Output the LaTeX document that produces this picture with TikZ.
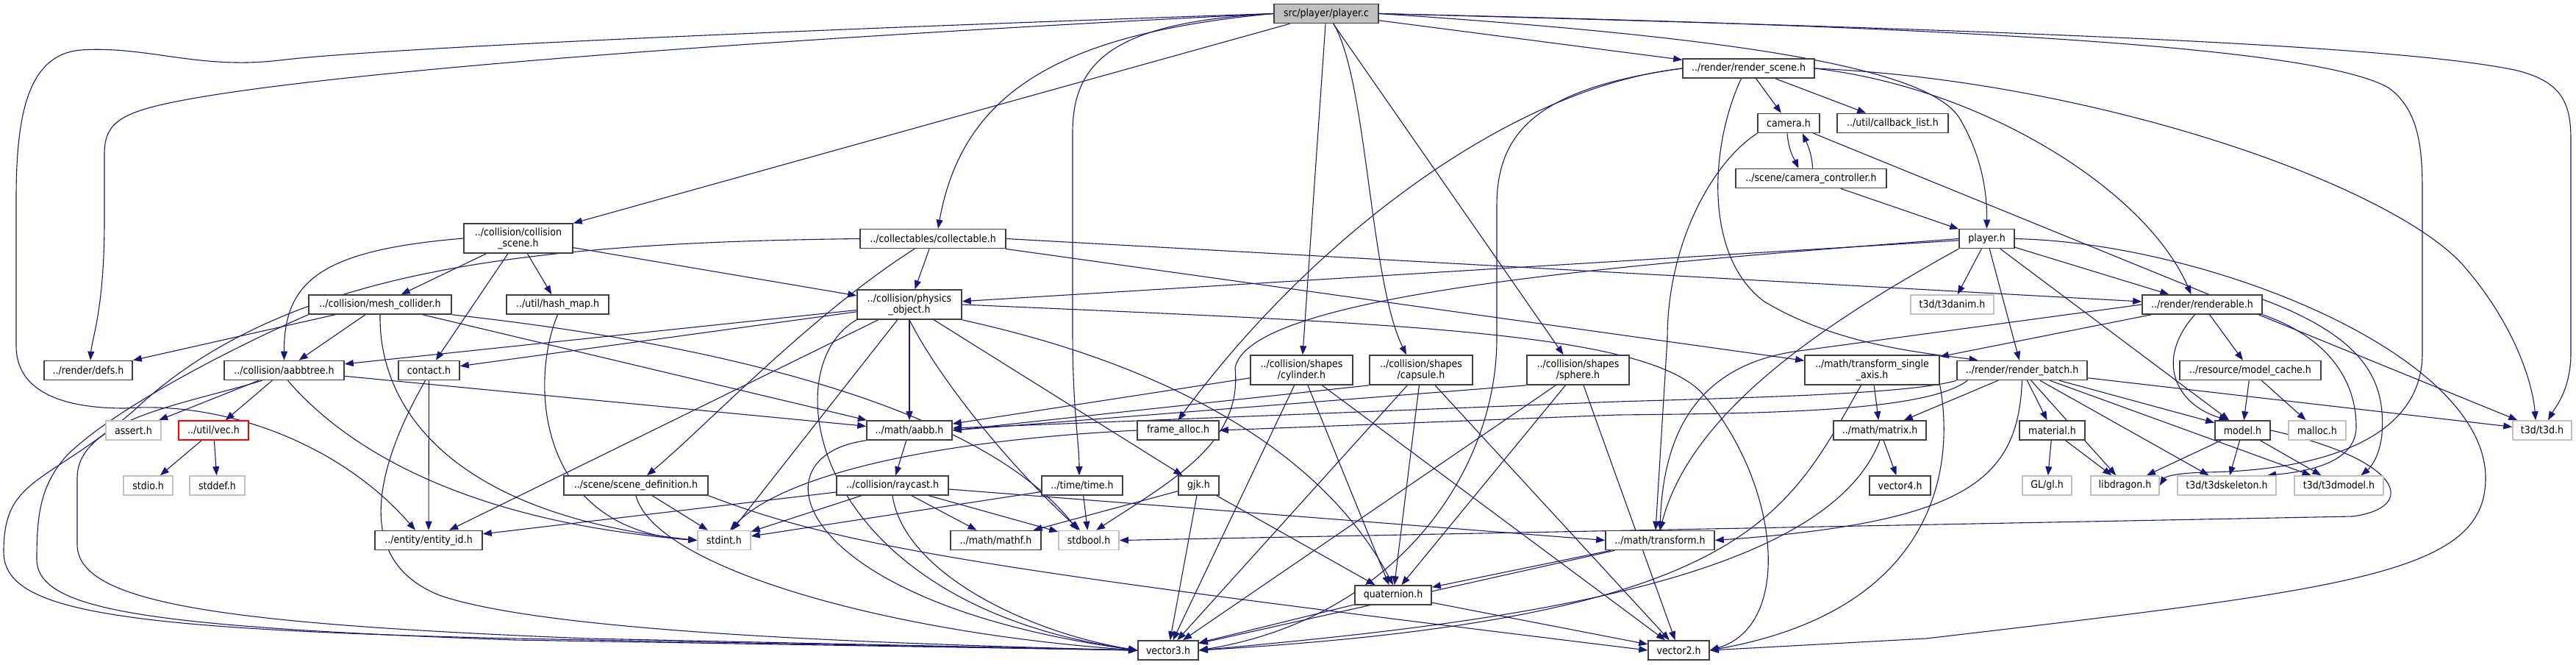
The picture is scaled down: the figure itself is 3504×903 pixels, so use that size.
\documentclass[tikz,border=0pt]{standalone}
\usepackage{fontspec}
\setmainfont{DejaVu Sans}[FakeStretch=0.9]
\usetikzlibrary{arrows.meta,backgrounds}
\definecolor{depblue}{RGB}{25,25,112}
\definecolor{sysgray}{RGB}{191,191,191}
\definecolor{boxline}{RGB}{64,64,64}
\tikzset{
  hdr/.style={rectangle, draw=boxline, line width=1.6pt, fill=white, inner sep=0pt,
    minimum height=26pt, align=center, font=\fontsize{14}{15}\selectfont},
  hdrtwo/.style={hdr, minimum height=40pt},
  syshdr/.style={hdr, draw=sysgray},
  roothdr/.style={hdr, fill=sysgray},
  misshdr/.style={hdr, draw=red},
  dep/.style={draw=depblue, line width=1.1pt, -{Triangle[length=12pt,width=9pt]}},
}

\begin{document}
\begin{tikzpicture}[x=1pt, y=-1pt]
    \useasboundingbox (0,0) rectangle (3504,903);

    % --- root ---
    \node[roothdr, minimum width=142pt] (pc) at (1804,18.5) {src/player/player.c};

    % --- collision side ---
    \node[hdrtwo, minimum width=148pt] (collscene) at (705,324) {../collision/collision\\\_scene.h};
    \node[hdr, minimum width=194pt] (meshcoll) at (517,414) {../collision/mesh\_collider.h};
    \node[hdr, minimum width=139pt] (hashmap) at (758.5,414) {../util/hash\_map.h};
    \node[hdr, minimum width=120pt] (defs) at (120,503.5) {../render/defs.h};
    \node[hdr, minimum width=163pt] (aabbtree) at (386.5,503.5) {../collision/aabbtree.h};
    \node[hdr, minimum width=83pt] (contact) at (583.5,503.5) {contact.h};
    \node[syshdr, minimum width=75pt] (assert) at (181.5,585) {assert.h};
    \node[misshdr, minimum width=95pt] (vec) at (290.5,585) {../util/vec.h};
    \node[syshdr, minimum width=67pt] (stdio) at (201.5,660) {stdio.h};
    \node[syshdr, minimum width=75pt] (stddef) at (295.5,660) {stddef.h};
    \node[hdr, minimum width=146pt] (entityid) at (583,734.5) {../entity/entity\_id.h};
    \node[hdr, minimum width=196pt] (scenedef) at (865,660) {../scene/scene\_definition.h};
    \node[hdr, minimum width=198pt] (collect) at (1269,324.5) {../collectables/collectable.h};
    \node[hdrtwo, minimum width=142pt] (physobj) at (1237,414) {../collision/physics\\\_object.h};
    \node[hdrtwo, minimum width=139pt] (cylinder) at (1770.5,503) {../collision/shapes\\/cylinder.h};
    \node[hdrtwo, minimum width=140pt] (capsule) at (1933,503) {../collision/shapes\\/capsule.h};
    \node[hdrtwo, minimum width=139pt] (sphere) at (2146.5,503) {../collision/shapes\\/sphere.h};
    \node[hdr, minimum width=116pt] (aabb) at (1237,585) {../math/aabb.h};
    \node[hdr, minimum width=111pt] (framealloc) at (1602.5,585) {frame\_alloc.h};
    \node[hdr, minimum width=152pt] (raycast) at (1214,660) {../collision/raycast.h};
    \node[hdr, minimum width=110pt] (timeh) at (1472,660) {../time/time.h};
    \node[hdr, minimum width=55pt] (gjk) at (1630.5,660) {gjk.h};
    \node[syshdr, minimum width=72pt] (stdint) at (985,734.5) {stdint.h};
    \node[hdr, minimum width=123pt] (mathf) at (1354.5,734.5) {../math/mathf.h};
    \node[syshdr, minimum width=82pt] (stdbool) at (1481,734.5) {stdbool.h};
    \node[hdr, minimum width=82pt] (vecthree) at (1589,884) {vector3.h};

    % --- render side ---
    \node[hdr, minimum width=179pt] (rscene) at (2378.5,93) {../render/render\_scene.h};
    \node[hdr, minimum width=84pt] (camera) at (2433,167.5) {camera.h};
    \node[hdr, minimum width=151pt] (cblist) at (2574.5,167.5) {../util/callback\_list.h};
    \node[hdr, minimum width=205pt] (camctrl) at (2463.5,242.5) {../scene/camera\_controller.h};
    \node[hdr, minimum width=75pt] (playerh) at (2702.5,324.5) {player.h};
    \node[syshdr, minimum width=113pt] (tanim) at (2655.5,414) {t3d/t3danim.h};
    \node[hdr, minimum width=163pt] (renderable) at (2995.5,414) {../render/renderable.h};
    \node[hdrtwo, minimum width=183pt] (tsingle) at (2546.5,503) {../math/transform\_single\\\_axis.h};
    \node[hdr, minimum width=177pt] (rbatch) at (2750.5,503.5) {../render/render\_batch.h};
    \node[hdr, minimum width=192pt] (mcache) at (3061,503.5) {../resource/model\_cache.h};
    \node[hdr, minimum width=126pt] (matrix) at (2557,585) {../math/matrix.h};
    \node[hdr, minimum width=89pt] (material) at (2791.5,585) {material.h};
    \node[hdr, minimum width=75pt] (model) at (3050.5,585) {model.h};
    \node[syshdr, minimum width=78pt] (malloc) at (3152,585) {malloc.h};
    \node[syshdr, minimum width=80pt] (tthreed) at (3458,585) {t3d/t3d.h};
    \node[hdr, minimum width=83pt] (vecfour) at (2584.5,660) {vector4.h};
    \node[syshdr, minimum width=67pt] (glh) at (2784.5,660) {GL/gl.h};
    \node[syshdr, minimum width=93pt] (libdragon) at (2890.5,660) {libdragon.h};
    \node[syshdr, minimum width=134pt] (tskel) at (3029,660) {t3d/t3dskeleton.h};
    \node[syshdr, minimum width=121pt] (tmodel) at (3181.5,660) {t3d/t3dmodel.h};
    \node[hdr, minimum width=148pt] (transform) at (2258,734.5) {../math/transform.h};
    \node[hdr, minimum width=104pt] (quat) at (1895,809) {quaternion.h};
    \node[hdr, minimum width=83pt] (vectwo) at (2283.5,884) {vector2.h};

    \begin{scope}[on background layer]
        % straight includes
        \foreach \src/\dst in {pc/collscene, pc/cylinder, pc/rscene, collscene/meshcoll,
            collscene/hashmap, collscene/contact, collscene/physobj, meshcoll/defs,
            meshcoll/aabbtree, meshcoll/aabb, collect/physobj, collect/tsingle,
            physobj/aabbtree, physobj/contact, physobj/entityid, physobj/aabb,
            physobj/stdint, physobj/gjk, aabbtree/assert, aabbtree/vec, aabbtree/aabb,
            vec/stdio, vec/stddef, contact/entityid, scenedef/stdint, raycast/entityid,
            raycast/stdint, raycast/mathf, raycast/stdbool, aabb/raycast, timeh/stdint,
            timeh/stdbool, gjk/mathf, gjk/vecthree, gjk/quat, cylinder/aabb,
            cylinder/quat, cylinder/vecthree, cylinder/vectwo, capsule/quat,
            capsule/vecthree, capsule/vectwo, sphere/quat, sphere/vecthree,
            sphere/vectwo, tsingle/matrix, matrix/vecfour, transform/quat,
            transform/vecthree, quat/vecthree, quat/vectwo, camctrl/playerh,
            rscene/camera, rscene/cblist, playerh/physobj, playerh/tanim,
            playerh/renderable, playerh/rbatch, playerh/model, renderable/tsingle,
            renderable/mcache, rbatch/matrix, rbatch/material, rbatch/libdragon,
            rbatch/tskel, rbatch/tmodel, rbatch/model, rbatch/tthreed, mcache/model,
            mcache/malloc, model/libdragon, model/tskel, model/tmodel,
            material/glh, material/libdragon, camera/tthreed}
            \draw[dep] (\src) -- (\dst);
        \draw[dep] (pc) -- ([xshift=-20pt]sphere.north);
        \draw[dep] (capsule.south west) -- (aabb.east);
        \draw[dep] (sphere.south west) -- (aabb.east);
        \draw[dep] (collect.east) -- ([yshift=4pt]renderable.west);
        \draw[dep] ([yshift=-5pt]raycast.east) -- (transform.west);

        % long ones from player.c
        \draw[dep] (pc.west) .. controls (1100,40) and (520,65) .. (380,82)
            .. controls (270,95) and (200,62) .. (110,68)
            .. controls (40,74) and (22,150) .. (22,270) -- (22,470)
            .. controls (22,530) and (80,555) .. (170,555)
            .. controls (300,545) and (460,600) .. ([xshift=-18pt]entityid.north);
        \draw[dep] (pc.west) .. controls (1000,55) and (420,100) .. (230,140)
            .. controls (160,155) and (142,170) .. (142,210) -- (142,300)
            .. controls (142,420) and (125,460) .. ([xshift=3pt]defs.north);
        \draw[dep] (pc.west) .. controls (1450,45) and (1310,120) .. ([xshift=7pt]collect.north);
        \draw[dep] (pc.west) .. controls (1520,30) and (1459,80) .. (1459,180) -- (1459,450)
            .. controls (1459,560) and (1468,600) .. ([xshift=-4pt]timeh.north);
        \draw[dep] ([xshift=10pt]pc.south) .. controls (1860,110) and (1863,380) .. ([xshift=-20pt]capsule.north);
        \draw[dep] (pc.east) .. controls (2350,50) and (2620,90) .. (2665,160)
            .. controls (2695,210) and (2703,260) .. (playerh.north);
        \draw[dep] (pc.east) .. controls (2700,40) and (3250,60) .. (3420,95)
            .. controls (3485,110) and (3497,140) .. (3497,190) -- (3497,480)
            .. controls (3497,530) and (3475,555) .. ([xshift=8pt]tthreed.north);
        \draw[dep] (pc.east) .. controls (2600,35) and (3150,60) .. (3250,120)
            .. controls (3290,150) and (3295,200) .. (3295,260) -- (3295,480)
            .. controls (3295,600) and (3150,640) .. (3000,642)
            .. controls (2960,643) and (2945,648) .. (libdragon.east);

        % collision side curves
        \draw[dep] (collscene.west) .. controls (440,340) and (386,380) .. (aabbtree.north);
        \draw[dep] (hashmap.south) .. controls (720,520) and (730,720) .. (stdint.west);
        \draw[dep] (meshcoll.south) .. controls (515,560) and (620,700) .. (stdint.west);
        \draw[dep] (meshcoll.south east) .. controls (1000,470) and (1340,560) .. ([xshift=-15pt]stdbool.north);
        \draw[dep] ([xshift=5pt]aabbtree.south) .. controls (480,620) and (650,710) .. (stdint.west);
        \draw[dep] ([xshift=-25pt]collect.south) .. controls (1100,430) and (960,580) .. ([xshift=15pt]scenedef.north);
        \draw[dep] (collect.west) .. controls (700,330) and (380,370) .. (180,560)
            .. controls (60,660) and (5,650) .. (5,750)
            .. controls (5,830) and (150,855) .. (700,868) -- (vecthree.west);
        \draw[dep] (meshcoll.south west) .. controls (300,480) and (150,560) .. (90,620)
            .. controls (55,660) and (50,700) .. (50,760)
            .. controls (50,830) and (200,852) .. (700,870) -- (vecthree.west);
        \draw[dep] ([xshift=-30pt]aabbtree.south) .. controls (250,550) and (105,570) .. (105,650) -- (105,740)
            .. controls (105,820) and (300,848) .. (800,868) -- (vecthree.west);
        \draw[dep] ([xshift=-5pt]contact.south) .. controls (520,620) and (470,760) .. (600,810)
            .. controls (750,860) and (1200,875) .. (vecthree.west);
        \draw[dep] (scenedef.south) .. controls (890,770) and (1200,860) .. (vecthree.west);
        \draw[dep] (scenedef.south east) .. controls (1150,745) and (1350,775) .. (vectwo.west);
        \draw[dep] (raycast.south) .. controls (1230,780) and (1400,860) .. (vecthree.west);
        \draw[dep] (aabb.south west) .. controls (1020,620) and (1080,820) .. (vecthree.west);
        \draw[dep] (framealloc.west) .. controls (1250,600) and (1060,650) .. ([xshift=8pt]stdint.north);
        \draw[dep] (physobj.south) .. controls (1280,520) and (1380,640) .. ([xshift=-12pt]stdbool.north);
        \draw[dep] (physobj.south east) .. controls (1420,460) and (1760,540) .. (quat.north);
        \draw[dep] (physobj.south west) .. controls (1050,500) and (1100,820) .. (vecthree.west);
        \draw[dep] (physobj.east) .. controls (1900,440) and (2250,450) .. (2320,540)
            .. controls (2420,660) and (2440,850) .. (vectwo.east);

        % render side curves
        \draw[dep] (rscene.east) .. controls (2700,120) and (2920,260) .. ([xshift=-15pt]renderable.north);
        \draw[dep] (rscene.east) .. controls (2850,110) and (3250,250) .. (3350,360)
            .. controls (3420,440) and (3445,520) .. ([xshift=-9pt]tthreed.north);
        \draw[dep] ([xshift=-10pt]rscene.south) .. controls (2325,200) and (2318,350) .. (2400,410)
            .. controls (2500,470) and (2620,480) .. ([xshift=-60pt]rbatch.north);
        \draw[dep] (rscene.west) .. controls (2050,120) and (1780,330) .. (framealloc.north);
        \draw[dep] (rscene.west) .. controls (2090,120) and (2036,180) .. (2036,280) -- (2036,460)
            .. controls (2036,640) and (1900,840) .. (vecthree.east);
        \draw[dep] ([xshift=-2pt]camera.south) .. controls (2433,205) and (2440,215) .. ([xshift=-17pt]camctrl.north);
        \draw[dep] ([xshift=2pt]camctrl.north) .. controls (2465,210) and (2458,195) .. ([xshift=19pt]camera.south);
        \draw[dep] (camera.south west) .. controls (2330,220) and (2268,330) .. (2268,460)
            -- ([xshift=-6pt]transform.north);
        \draw[dep] (playerh.south west) .. controls (2480,440) and (2300,560) .. (transform.north);
        \draw[dep] (renderable.west) -- (2440,478) .. controls (2300,500) and (2262,600) .. (transform.north);
        \draw[dep] (playerh.west) .. controls (2200,360) and (1700,400) .. (1680,500)
            .. controls (1690,600) and (1600,650) .. ([xshift=10pt]stdbool.north);
        \draw[dep] (playerh.east) .. controls (3000,330) and (3381,480) .. (3381,650)
            .. controls (3381,780) and (3200,800) .. (2620,868) -- (vectwo.east);
        \draw[dep] ([xshift=-10pt]renderable.south) .. controls (2930,490) and (2960,550) .. ([xshift=-20pt]model.north);
        \draw[dep] (renderable.south east) .. controls (3170,460) and (3205,520) .. (3205,580)
            .. controls (3205,625) and (3150,640) .. ([xshift=55pt]tskel.north);
        \draw[dep] ([yshift=7pt]renderable.east) .. controls (3220,460) and (3245,520) .. (3240,590)
            .. controls (3237,620) and (3225,635) .. ([xshift=30pt]tmodel.north);
        \draw[dep] (rbatch.south west) .. controls (2600,535) and (2400,540) .. (2200,546) -- ([yshift=3pt]aabb.east);
        \draw[dep] ([xshift=15pt]rbatch.south west) .. controls (2620,560) and (2400,562) .. (2200,564) -- (framealloc.east);
        \draw[dep] (rbatch.south) .. controls (2745,650) and (2680,710) .. (transform.east);
        \draw[dep] ([xshift=-15pt]tsingle.south) .. controls (2430,700) and (2380,840) .. (vecthree.east);
        \draw[dep] (tsingle.south east) .. controls (2660,640) and (2630,830) .. (vectwo.east);
        \draw[dep] (matrix.south) .. controls (2480,800) and (2000,850) .. (vecthree.east);
        \draw[dep] (model.east) .. controls (3270,625) and (3290,690) .. (3200,702) -- (stdbool.east);
    \end{scope}
\end{tikzpicture}
\end{document}
